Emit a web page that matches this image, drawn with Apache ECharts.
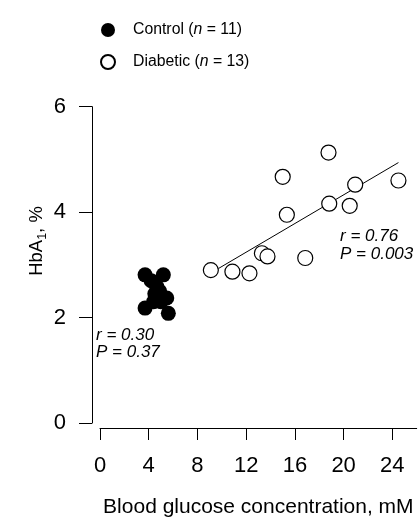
<!DOCTYPE html>
<html>
<head>
<meta charset="utf-8">
<script src="https://cdn.jsdelivr.net/npm/echarts@6/dist/echarts.min.js"></script>
<style>html,body{margin:0;padding:0;background:#fff;}#c{width:418px;height:518px;}</style>
</head>
<body>
<div id="c"></div>
<script>
// Blood glucose (mM) and HbA1 (%)
const controlX = [3.70, 5.20, 4.66, 5.48, 3.70, 5.61, 4.20, 4.50, 4.90, 4.40, 5.00];
const controlY = [2.81, 2.81, 2.59, 2.37, 2.18, 2.08, 2.70, 2.45, 2.50, 2.30, 2.30];
const diabeticX = [9.10, 10.87, 12.27, 13.29, 13.75, 15.34, 16.85, 15.00, 18.76, 18.82, 20.50, 20.95, 24.50];
const diabeticY = [2.90, 2.87, 2.84, 3.22, 3.16, 3.95, 3.13, 4.67, 5.13, 4.16, 4.12, 4.52, 4.60];
const fitX = [9.72, 24.50];
const fitY = [2.93, 4.94];
const xTicks = [0, 4, 8, 12, 16, 20, 24];
const yTicks = [0, 2, 4, 6];
const controlStats = ['r = 0.30', 'P = 0.37'];
const diabeticStats = ['r = 0.76', 'P = 0.003'];

const F = 'Liberation Sans, Arial, Helvetica, sans-serif';
const zip = (a, b) => a.map((v, i) => [v, b[i]]);
const counts = { Control: controlX.length, Diabetic: diabeticX.length };

const chart = echarts.init(document.getElementById('c'), null, { renderer: 'canvas' });
chart.setOption({
  animation: false,
  backgroundColor: '#fff',
  grid: { left: 100, right: 1.3, top: 106.7, bottom: 95, containLabel: false, outerBoundsMode: 'none' },
  legend: {
    orient: 'vertical', left: 95, top: 16, itemWidth: 14, itemHeight: 14, itemGap: 14,
    data: ['Control', 'Diabetic'],
    formatter: name => name + ' ({i|n} = ' + counts[name] + ')',
    textStyle: {
      fontFamily: F, fontSize: 15.8, color: '#000', lineHeight: 18, padding: [0, 0, 0, 13],
      rich: { i: { fontFamily: F, fontSize: 15.8, fontStyle: 'italic', color: '#000', lineHeight: 18 } }
    }
  },
  xAxis: {
    type: 'value', min: 0, max: 26, interval: 4, offset: 5,
    axisLine: { show: true, onZero: false, lineStyle: { color: '#000', width: 1 } },
    axisTick: { show: true, length: 12, lineStyle: { color: '#000', width: 1 }, customValues: xTicks },
    axisLabel: { color: '#000', fontFamily: F, fontSize: 22, margin: 27, customValues: xTicks },
    splitLine: { show: false },
    name: 'Blood glucose concentration, mM', nameLocation: 'middle', nameGap: 69,
    nameTextStyle: { color: '#000', fontFamily: F, fontSize: 21 }
  },
  yAxis: {
    type: 'value', min: 0, max: 6, interval: 2, offset: 8,
    axisLine: { show: true, onZero: false, lineStyle: { color: '#000', width: 1 } },
    axisTick: { show: true, length: 13, lineStyle: { color: '#000', width: 1 }, customValues: yTicks },
    axisLabel: { color: '#000', fontFamily: F, fontSize: 22, margin: 26, customValues: yTicks },
    splitLine: { show: false }
  },
  graphic: [
    { type: 'text', x: 37, y: 241, rotation: Math.PI / 2,
      style: { text: '{a|HbA}{s|1}{a|, %}', align: 'center', verticalAlign: 'middle', fill: '#000',
        rich: { a: { fontFamily: F, fontSize: 18.5, lineHeight: 24, fill: '#000' },
                s: { fontFamily: F, fontSize: 12.5, lineHeight: 12, verticalAlign: 'bottom', fill: '#000' } } } },
    { type: 'text', x: 96, y: 335, style: { text: controlStats[0], font: 'italic 17px ' + F, fill: '#000', verticalAlign: 'middle' } },
    { type: 'text', x: 96, y: 352, style: { text: controlStats[1], font: 'italic 17px ' + F, fill: '#000', verticalAlign: 'middle' } },
    { type: 'text', x: 340, y: 236, style: { text: diabeticStats[0], font: 'italic 17px ' + F, fill: '#000', verticalAlign: 'middle' } },
    { type: 'text', x: 340, y: 254, style: { text: diabeticStats[1], font: 'italic 17px ' + F, fill: '#000', verticalAlign: 'middle' } }
  ],
  series: [
    { name: 'Fit', type: 'line', data: zip(fitX, fitY), showSymbol: false, symbol: 'none',
      lineStyle: { color: '#000', width: 1 }, z: 1, silent: true },
    { name: 'Control', type: 'scatter', data: zip(controlX, controlY), symbol: 'circle', symbolSize: 15,
      itemStyle: { color: '#000', borderColor: '#000', borderWidth: 0, opacity: 1 }, z: 3 },
    { name: 'Diabetic', type: 'scatter', data: zip(diabeticX, diabeticY), symbol: 'circle', symbolSize: 15,
      itemStyle: { color: '#fff', borderColor: '#000', borderWidth: 1.2, opacity: 1 }, z: 2 }
  ]
});
</script>
</body>
</html>
